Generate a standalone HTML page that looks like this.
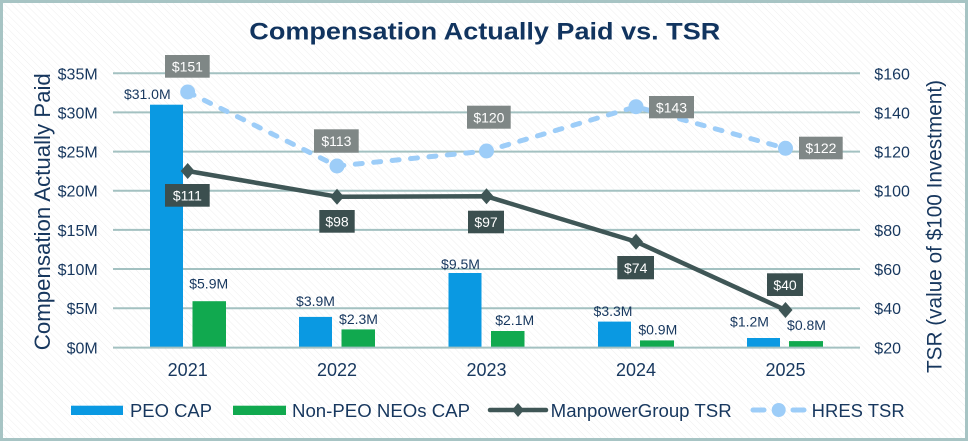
<!DOCTYPE html>
<html>
<head>
<meta charset="utf-8">
<style>
html,body{margin:0;padding:0;background:#fff;}
svg{display:block;}
text{font-family:"Liberation Sans",Arial,sans-serif;}
</style>
</head>
<body>
<svg width="968" height="441" viewBox="0 0 968 441" xmlns="http://www.w3.org/2000/svg">
<defs>
<pattern id="hatch" width="5" height="5" patternUnits="userSpaceOnUse" patternTransform="rotate(-45)">
<rect width="5" height="5" fill="#ffffff"/>
<line x1="0" y1="0" x2="0" y2="5" stroke="#efefef" stroke-width="1"/>
</pattern>
</defs>
<rect x="0" y="0" width="968" height="441" fill="url(#hatch)"/>
<rect x="1.5" y="1.5" width="965" height="438" fill="none" stroke="#a7c4c4" stroke-width="3"/>

<!-- Title -->
<text x="249.3" y="39.3" font-size="24" font-weight="bold" fill="#11345f" textLength="471" lengthAdjust="spacingAndGlyphs">Compensation Actually Paid vs. TSR</text>

<!-- Gridlines -->
<g stroke="#a3c1c1" stroke-width="2">
<line x1="113" y1="73.3" x2="860" y2="73.3"/>
<line x1="113" y1="112.4" x2="860" y2="112.4"/>
<line x1="113" y1="151.6" x2="860" y2="151.6"/>
<line x1="113" y1="190.7" x2="860" y2="190.7"/>
<line x1="113" y1="229.9" x2="860" y2="229.9"/>
<line x1="113" y1="269" x2="860" y2="269"/>
<line x1="113" y1="308.2" x2="860" y2="308.2"/>
</g>

<!-- Left ticks -->
<g font-size="16" fill="#17375e" text-anchor="end">
<text x="97.7" y="79.3">$35M</text>
<text x="97.7" y="118.4">$30M</text>
<text x="97.7" y="157.6">$25M</text>
<text x="97.7" y="196.7">$20M</text>
<text x="97.7" y="235.9">$15M</text>
<text x="97.7" y="275">$10M</text>
<text x="97.7" y="314.2">$5M</text>
<text x="97.7" y="353.4">$0M</text>
</g>
<!-- Right ticks -->
<g font-size="16" fill="#17375e" text-anchor="start">
<text x="874.3" y="79.3">$160</text>
<text x="874.3" y="118.4">$140</text>
<text x="874.3" y="157.6">$120</text>
<text x="874.3" y="196.7">$100</text>
<text x="874.3" y="235.9">$80</text>
<text x="874.3" y="275">$60</text>
<text x="874.3" y="314.2">$40</text>
<text x="874.3" y="353.4">$20</text>
</g>

<!-- Axis titles -->
<text transform="translate(50,211.7) rotate(-90)" text-anchor="middle" font-size="22.5" fill="#17375e" textLength="277" lengthAdjust="spacingAndGlyphs">Compensation Actually Paid</text>
<text transform="translate(941.5,226.5) rotate(-90)" text-anchor="middle" font-size="21.5" fill="#17375e" textLength="293" lengthAdjust="spacingAndGlyphs">TSR (value of $100 Investment)</text>

<!-- Bars -->
<g fill="#0a99e2">
<rect x="150" y="104.7" width="33" height="242.7"/>
<rect x="299" y="316.9" width="33" height="30.5"/>
<rect x="448.5" y="273" width="33" height="74.4"/>
<rect x="598" y="321.6" width="33" height="25.8"/>
<rect x="747" y="338" width="33" height="9.4"/>
</g>
<g fill="#11a94f">
<rect x="192.5" y="301.2" width="33.5" height="46.2"/>
<rect x="341.5" y="329.4" width="33.5" height="18"/>
<rect x="491" y="331" width="33.5" height="16.4"/>
<rect x="640" y="340.4" width="34" height="7"/>
<rect x="789" y="341.1" width="34" height="6.3"/>
</g>
<line x1="113" y1="347.6" x2="860" y2="347.6" stroke="#a3c1c1" stroke-width="2"/>

<!-- Bar labels -->
<g font-size="14" fill="#17375e" text-anchor="middle">
<text x="147.3" y="99">$31.0M</text>
<text x="208.7" y="288.3">$5.9M</text>
<text x="315.5" y="306">$3.9M</text>
<text x="358.5" y="324">$2.3M</text>
<text x="460.5" y="269">$9.5M</text>
<text x="514.7" y="325">$2.1M</text>
<text x="613" y="316">$3.3M</text>
<text x="657.8" y="334.3">$0.9M</text>
<text x="749.5" y="326.7">$1.2M</text>
<text x="806.5" y="330">$0.8M</text>
</g>

<!-- Year labels -->
<g font-size="18" fill="#17375e" text-anchor="middle">
<text x="187.7" y="376">2021</text>
<text x="337" y="376">2022</text>
<text x="486.5" y="376">2023</text>
<text x="636" y="376">2024</text>
<text x="785.5" y="376">2025</text>
</g>

<!-- HRES TSR line -->
<polyline points="187.7,92 337,166 486.5,151 636,106.7 785.5,148.3" fill="none" stroke="#9dcdf8" stroke-width="5" stroke-dasharray="7 11.5" stroke-linecap="round"/>
<g fill="#9dcdf8">
<circle cx="187.7" cy="92" r="7.5"/>
<circle cx="337" cy="166" r="7.5"/>
<circle cx="486.5" cy="151" r="7.5"/>
<circle cx="636" cy="106.7" r="7.5"/>
<circle cx="785.5" cy="148.3" r="7.5"/>
</g>

<!-- ManpowerGroup TSR line -->
<polyline points="187.7,171 337,196.7 486.5,196.3 636,241.7 785.5,310" fill="none" stroke="#3f5656" stroke-width="4.5" stroke-linejoin="round"/>
<g fill="#3f5656">
<polygon points="187.7,163 194.7,171 187.7,179 180.7,171"/>
<polygon points="337,188.7 344,196.7 337,204.7 330,196.7"/>
<polygon points="486.5,188.3 493.5,196.3 486.5,204.3 479.5,196.3"/>
<polygon points="636,233.7 643,241.7 636,249.7 629,241.7"/>
<polygon points="785.5,302 792.5,310 785.5,318 778.5,310"/>
</g>

<!-- Data label boxes -->
<g fill="#7f8786">
<rect x="165" y="55" width="44.7" height="22.7"/>
<rect x="314" y="129.3" width="44.7" height="23.4"/>
<rect x="467" y="105.7" width="43.7" height="23"/>
<rect x="649" y="96" width="45" height="22.3"/>
<rect x="799" y="136.7" width="43.7" height="22.6"/>
</g>
<g fill="#3b4f4f">
<rect x="165" y="184" width="44.7" height="22.7"/>
<rect x="319.3" y="210" width="35.4" height="22.7"/>
<rect x="468" y="210.7" width="36" height="22.6"/>
<rect x="617.3" y="256" width="36.7" height="23.3"/>
<rect x="767" y="273.3" width="36" height="22.7"/>
</g>
<g font-size="14" fill="#ffffff" text-anchor="middle">
<text x="187.4" y="71.5">$151</text>
<text x="336.4" y="146.2">$113</text>
<text x="488.9" y="122.4">$120</text>
<text x="671.5" y="112.4">$143</text>
<text x="820.9" y="153.2">$122</text>
<text x="187.4" y="200.5">$111</text>
<text x="337" y="226.5">$98</text>
<text x="486" y="227.2">$97</text>
<text x="635.7" y="272.8">$74</text>
<text x="785" y="289.8">$40</text>
</g>

<!-- Legend -->
<rect x="71" y="405.7" width="52" height="9.3" fill="#0a99e2"/>
<text x="130" y="417" font-size="18" fill="#17375e" textLength="82" lengthAdjust="spacingAndGlyphs">PEO CAP</text>
<rect x="233" y="405.7" width="53" height="9.3" fill="#11a94f"/>
<text x="292" y="417" font-size="18" fill="#17375e" textLength="178" lengthAdjust="spacingAndGlyphs">Non-PEO NEOs CAP</text>
<line x1="490" y1="410" x2="546" y2="410" stroke="#3f5656" stroke-width="4.5" stroke-linecap="round"/>
<polygon points="518,403 524,410 518,417 512,410" fill="#3f5656"/>
<text x="550.7" y="417" font-size="18" fill="#17375e" textLength="181" lengthAdjust="spacingAndGlyphs">ManpowerGroup TSR</text>
<line x1="753" y1="410" x2="764" y2="410" stroke="#9dcdf8" stroke-width="5" stroke-linecap="round"/>
<circle cx="778.7" cy="410" r="7" fill="#9dcdf8"/>
<line x1="793" y1="410" x2="804" y2="410" stroke="#9dcdf8" stroke-width="5" stroke-linecap="round"/>
<text x="811.7" y="417" font-size="18" fill="#17375e" textLength="93" lengthAdjust="spacingAndGlyphs">HRES TSR</text>
</svg>
</body>
</html>
